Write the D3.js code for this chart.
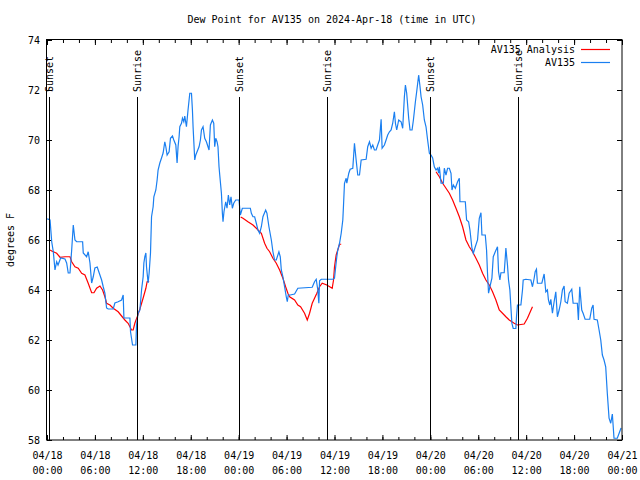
<!DOCTYPE html>
<html>
<head>
<meta charset="utf-8">
<script src="https://cdn.jsdelivr.net/npm/d3@7"></script>
<style>
body { margin: 0; background: #fff; }
text { font-family: "DejaVu Sans Mono", monospace; font-size: 10px; fill: #000; }
</style>
</head>
<body>
<svg id="chart" width="640" height="480"></svg>
<script>
// hours after 2024-04-18 00:00 UTC
const startTime = Date.UTC(2024, 3, 18, 0, 0);

const obsHours = [0,0.12,0.38,0.59,0.79,1.0,1.21,1.38,1.71,2.25,2.46,2.66,2.88,3.09,3.29,3.5,3.71,4.46,4.54,4.96,
  5.16,5.38,5.59,5.79,6.0,6.29,6.54,6.84,7.04,7.25,7.46,7.66,8.29,8.5,8.91,9.34,9.54,9.63,10.38,10.46,
  10.71,11.13,11.21,11.41,11.63,11.84,12.04,12.13,12.25,12.38,12.46,12.66,12.79,12.96,13.09,13.29,13.38,13.63,13.79,13.91,
  14.13,14.34,14.54,14.75,14.88,15.04,15.29,15.46,15.71,15.88,16.13,16.29,16.41,16.54,16.63,16.84,16.96,17.13,17.25,17.46,
  17.66,17.88,18.09,18.21,18.29,18.5,18.63,18.79,19.04,19.21,19.34,19.54,19.75,19.96,20.16,20.29,20.46,20.71,20.88,21.0,
  21.13,21.29,21.41,21.54,21.63,21.84,21.96,22.04,22.16,22.38,22.54,22.71,22.88,23.04,23.21,23.38,23.63,24.04,24.21,24.46,
  25.46,25.59,25.79,26.0,26.21,26.41,26.63,26.84,27.04,27.38,27.54,27.79,28.09,28.29,28.5,28.71,29.04,29.21,29.34,29.54,
  29.75,29.96,30.09,30.21,30.46,31.0,31.41,33.21,33.5,33.71,33.91,34.04,34.13,34.34,35.79,36.0,36.13,36.29,36.41,36.63,
  36.84,37.04,37.13,37.25,37.46,37.54,37.79,37.96,38.29,38.5,38.71,38.91,39.13,39.34,39.96,40.16,40.38,40.59,40.79,41.0,
  41.21,41.41,41.63,41.84,41.96,42.25,42.46,42.66,42.88,43.09,43.29,43.5,43.63,43.79,44.04,44.34,44.54,44.75,44.88,45.04,
  45.29,45.46,45.71,45.88,46.13,46.29,46.54,46.71,46.84,47.04,47.25,47.46,47.66,47.88,48.09,48.29,48.5,48.71,48.91,49.04,
  49.13,49.34,49.63,49.75,49.96,50.16,50.38,50.59,50.71,50.88,51.13,51.41,51.63,51.71,52.38,52.54,52.79,52.96,53.21,53.38,
  53.63,53.91,54.13,54.34,54.46,54.88,55.04,55.16,55.29,55.46,55.71,55.88,56.13,56.41,56.54,56.71,56.84,57.25,57.38,57.46,
  57.66,57.79,57.96,58.21,58.38,58.71,58.79,58.91,59.34,59.54,59.63,59.96,60.59,60.79,61.0,61.13,61.29,61.41,61.96,62.25,
  62.46,62.66,62.79,62.96,63.09,63.29,63.5,63.71,63.91,64.13,64.34,64.54,64.75,64.88,65.16,65.38,65.71,65.88,66.41,66.54,
  66.71,66.96,67.13,67.38,67.96,68.21,68.38,68.5,68.91,69.13,69.34,69.54,69.75,69.96,70.16,70.38,70.59,70.79,71.0,71.41,
  71.71,71.88];
const obsValues = [66.84,66.84,66.8,65.93,65.53,64.8,65.13,65.0,65.28,65.24,65.08,64.68,64.68,65.6,66.6,66.0,65.93,65.93,65.48,65.33,
  65.53,65.08,64.28,64.53,64.88,64.92,64.68,64.4,64.13,63.88,63.28,63.24,63.24,63.48,63.53,63.6,63.8,62.88,62.88,62.33,
  61.8,61.8,62.6,63.08,63.2,64.0,64.53,65.08,65.33,65.48,64.93,64.28,64.68,65.48,66.93,67.33,67.73,68.0,68.4,68.8,
  69.08,69.28,69.48,69.93,69.73,69.4,69.53,70.07,70.16,70.0,69.8,69.08,69.73,70.13,70.53,70.67,70.87,70.73,70.96,70.53,
  71.2,71.87,71.87,71.2,70.53,69.2,69.4,69.53,69.73,70.0,70.4,70.53,70.07,69.93,69.73,69.6,70.6,70.8,70.67,69.73,
  70.07,69.93,69.73,68.93,68.6,67.87,67.07,66.73,67.13,67.53,67.27,67.8,67.4,67.73,67.27,67.47,67.6,67.6,67.0,67.27,
  67.27,67.07,66.93,66.93,66.67,66.4,66.27,66.53,66.93,67.2,67.07,66.53,66.0,65.53,65.2,65.2,65.53,65.33,64.8,64.53,
  64.13,63.73,63.53,63.8,63.8,63.84,64.07,64.11,64.33,64.43,64.0,63.47,64.37,64.43,64.43,64.47,64.87,65.33,65.6,65.87,
  66.27,66.8,67.4,68.27,68.47,68.27,68.67,68.83,68.87,69.87,69.2,68.6,68.6,69.2,69.23,69.73,69.93,69.67,69.8,69.6,
  69.6,69.8,70.0,70.83,69.67,69.8,70.0,70.2,70.33,70.4,70.67,71.13,70.67,70.4,70.8,70.73,70.47,71.73,72.2,71.87,
  70.87,70.4,70.4,70.8,71.53,71.93,72.6,72.13,71.73,71.4,70.8,70.53,70.0,69.47,69.4,69.28,68.93,68.8,68.87,68.67,
  68.93,68.27,68.27,68.87,68.6,68.87,68.87,68.67,68.0,68.2,68.07,68.33,68.47,67.53,67.53,66.8,66.73,66.4,65.67,65.47,
  65.73,66.0,66.87,67.09,66.2,66.2,65.6,64.67,63.87,64.13,64.47,65.33,65.53,65.73,64.73,64.4,64.69,64.69,65.28,65.68,
  65.0,64.4,64.0,62.67,62.46,62.46,62.93,63.4,63.4,64.0,64.4,64.43,64.4,64.13,64.47,64.73,64.83,64.27,64.27,64.64,
  63.93,64.0,63.6,63.4,63.63,63.07,63.53,63.93,62.93,63.2,63.53,64.0,64.16,63.53,63.47,63.87,64.03,63.47,63.47,62.8,
  64.13,63.2,63.07,62.83,62.83,63.27,63.4,62.83,62.8,62.4,62.0,61.4,61.2,60.93,59.87,58.87,58.67,59.04,58.07,58.07,
  58.33,58.48];

// analysis series, null = gap
const anaHours = [0.38,0.59,1.21,1.63,2.25,2.88,3.09,3.5,3.91,4.34,4.75,5.16,5.59,5.88,6.21,6.63,6.96,7.25,7.46,7.88,
  8.29,8.91,9.34,9.75,10.16,10.59,10.79,11.0,11.29,11.63,12.04,12.38,12.54,12.79, null,
  24.25,24.54,25.16,25.79,26.21,26.84,27.25,27.54,27.88,28.29,28.71,29.13,29.54,29.88,30.16,30.38,31.0,31.41,31.75,32.25,
  32.59,32.88,33.21,33.5,33.79,34.13,34.46,35.04,35.71,35.88,36.0,36.21,36.41,36.63,36.84, null,
  48.71,49.13,49.54,49.96,50.38,50.79,51.21,51.63,52.04,52.46,52.88,53.29,53.71,54.13,54.54,54.96,55.38,55.79,56.21,56.63,
  57.04,57.46,57.88,58.5,58.91,59.75,60.16,60.79];
const anaValues = [65.6,65.56,65.47,65.31,65.33,65.33,65.13,64.93,64.87,64.67,64.6,64.27,63.89,63.89,64.07,64.16,64.0,63.73,63.47,63.4,
  63.27,63.13,62.96,62.8,62.67,62.4,62.4,62.67,62.92,63.24,63.68,64.07,64.33,64.36, null,
  66.92,66.87,66.73,66.6,66.47,66.27,65.87,65.67,65.53,65.27,65.07,64.8,64.47,64.13,63.87,63.73,63.6,63.4,63.33,63.07,
  62.8,63.07,63.47,63.67,63.87,64.13,64.27,64.2,64.07,64.4,64.93,65.4,65.6,65.83,65.83, null,
  68.73,68.53,68.27,68.07,67.87,67.6,67.27,66.93,66.53,66.0,65.73,65.53,65.27,65.0,64.67,64.4,64.2,63.93,63.6,63.2,
  63.07,62.93,62.8,62.67,62.6,62.64,62.87,63.33];

const sunHours = [0.2, 11.25, 24.1, 35.1, 48.0, 59.0];
const sunLabels = ['Sunset', 'Sunrise', 'Sunset', 'Sunrise', 'Sunset', 'Sunrise'];
const yTicks = [58, 60, 62, 64, 66, 68, 70, 72, 74];
const seriesNames = ['AV135 Analysis', 'AV135'];
const seriesColors = ['#ff0000', '#1a7ff0'];

const toDate = h => new Date(startTime + h * 3600e3);
const svg = d3.select('#chart');
const x = d3.scaleUtc().domain([toDate(0), toDate(72)]).range([47, 622]);
const y = d3.scaleLinear().domain([58, 74]).range([440, 40]);

svg.append('defs').append('clipPath').attr('id', 'clip')
  .append('rect').attr('x', 47).attr('y', 40).attr('width', 575).attr('height', 400);

// title + y label
svg.append('text').attr('x', 332).attr('y', 23).attr('text-anchor', 'middle')
  .text('Dew Point for AV135 on 2024-Apr-18 (time in UTC)');
svg.append('text').attr('transform', 'translate(14,240) rotate(-90)').attr('text-anchor', 'middle')
  .text('degrees F');

// axes, ticks pointing inward like gnuplot
const fmt = d3.utcFormat('%m/%d|%H:%M');
const gx = svg.append('g').attr('transform', 'translate(0,440)')
  .call(d3.axisBottom(x).ticks(d3.utcHour.every(6)).tickSizeInner(-5).tickSizeOuter(0).tickFormat(fmt));
gx.selectAll('text').each(function(d) {
  const parts = fmt(d).split('|');
  const t = d3.select(this).text(null).attr('dy', null).attr('y', null);
  t.append('tspan').attr('x', 0).attr('y', 18.5).text(parts[0]);
  t.append('tspan').attr('x', 0).attr('y', 33.5).text(parts[1]);
});
svg.append('g').attr('transform', 'translate(0,440)')
  .call(d3.axisBottom(x).ticks(d3.utcHour.every(2)).tickSizeInner(-3).tickSizeOuter(0).tickFormat(''));
svg.append('g').attr('transform', 'translate(0,40)')
  .call(d3.axisTop(x).ticks(d3.utcHour.every(6)).tickSizeInner(-5).tickSizeOuter(0).tickFormat(''));
svg.append('g').attr('transform', 'translate(0,40)')
  .call(d3.axisTop(x).ticks(d3.utcHour.every(2)).tickSizeInner(-3).tickSizeOuter(0).tickFormat(''));
svg.append('g').attr('transform', 'translate(47,0)')
  .call(d3.axisLeft(y).tickValues(yTicks).tickSizeInner(-5).tickSizeOuter(0).tickPadding(7));
svg.append('g').attr('transform', 'translate(622,0)')
  .call(d3.axisRight(y).tickValues(yTicks).tickSizeInner(-5).tickSizeOuter(0).tickFormat(''));
svg.selectAll('.domain').remove();
svg.selectAll('.tick line').attr('stroke', '#000');
svg.selectAll('.tick text').style('font-family', '"DejaVu Sans Mono", monospace').style('font-size', '10px');

// data lines
const obs = d3.zip(obsHours, obsValues);
const ana = d3.zip(anaHours, anaValues);
const line = d3.line().defined(d => d[0] != null).x(d => x(toDate(d[0]))).y(d => y(d[1]));
const plot = svg.append('g').attr('clip-path', 'url(#clip)');
plot.append('path').datum(ana).attr('fill', 'none').attr('stroke', seriesColors[0]).attr('stroke-width', 1.2).attr('d', line);
plot.append('path').datum(obs).attr('fill', 'none').attr('stroke', seriesColors[1]).attr('stroke-width', 1.2).attr('d', line);

// sunrise / sunset markers
sunHours.forEach((h, i) => {
  const sx = Math.round(x(toDate(h))) + 0.5;
  svg.append('line').attr('x1', sx).attr('x2', sx).attr('y1', 97).attr('y2', 440)
    .attr('stroke', '#000').attr('stroke-width', 1);
  svg.append('text').attr('transform', `translate(${sx + 3.5},92) rotate(-90)`).text(sunLabels[i]);
});

// frame
svg.append('rect').attr('x', 46.5).attr('y', 39.5).attr('width', 575.5).attr('height', 400.5)
  .attr('fill', 'none').attr('stroke', '#000');

// legend
seriesNames.forEach((name, i) => {
  const ly = 49 + i * 13;
  svg.append('text').attr('x', 575).attr('y', ly + 3.5).attr('text-anchor', 'end').text(name);
  svg.append('line').attr('x1', 581).attr('x2', 610).attr('y1', ly + 0.5).attr('y2', ly + 0.5)
    .attr('stroke', seriesColors[i]).attr('stroke-width', 1.2);
});
</script>
</body>
</html>
